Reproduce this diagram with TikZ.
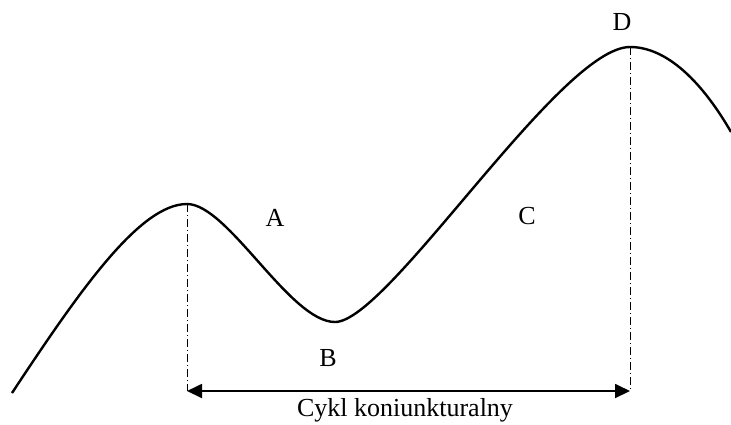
\documentclass[tikz,border=0pt]{standalone}
\usepackage{fontspec}
\setmainfont{Liberation Serif}
\usetikzlibrary{arrows.meta,positioning,calc}
\definecolor{Ink}{HTML}{000000}
\tikzset{
  curve/.style={draw=Ink,line width=1.2pt},
  guide/.style={draw=Ink,line width=.5pt,dash pattern=on 4pt off 1.5pt on .5pt off 1.5pt},
  span/.style={{Triangle[length=7.5pt,width=7pt]}-{Triangle[length=7.5pt,width=7pt]},draw=Ink,line width=.9pt},
  phase/.style={font=\fontsize{13}{15}\selectfont,text=Ink,inner sep=0pt}
}
\begin{document}
\begin{tikzpicture}[x=.5pt,y=-.5pt]
      \useasboundingbox (0,0) rectangle (731,424);
      % turning points of the cycle
      \coordinate (start) at (12,393);
      \coordinate (peak) at (187,204);
      \coordinate (trough) at (335,322);
      \coordinate (top) at (630,47);
      \coordinate (end) at (731,132);
      \draw[curve] (start) .. controls (80,290) and (140,204) .. (peak)
        .. controls (228,204) and (290,322) .. (trough)
        .. controls (388,322) and (560,47) .. (top)
        .. controls (672,47) and (708,92) .. (end);
      % guides down to the span
      \coordinate (peakfoot) at (187,391);
      \coordinate (topfoot) at (630,391);
      \draw[guide] (peak) -- (peakfoot);
      \draw[guide] (top) -- (topfoot);
      \draw[span] (peakfoot) -- (topfoot);
      \node[phase] (lblA) at (275,218) {A};
      \node[phase] (lblB) at (328,358) {B};
      \node[phase] (lblC) at (527,216) {C};
      \node[phase] (lblD) at (622,22) {D};
      \node[phase] (cycle) at (405,410) {Cykl koniunkturalny};
    \end{tikzpicture}
\end{document}
